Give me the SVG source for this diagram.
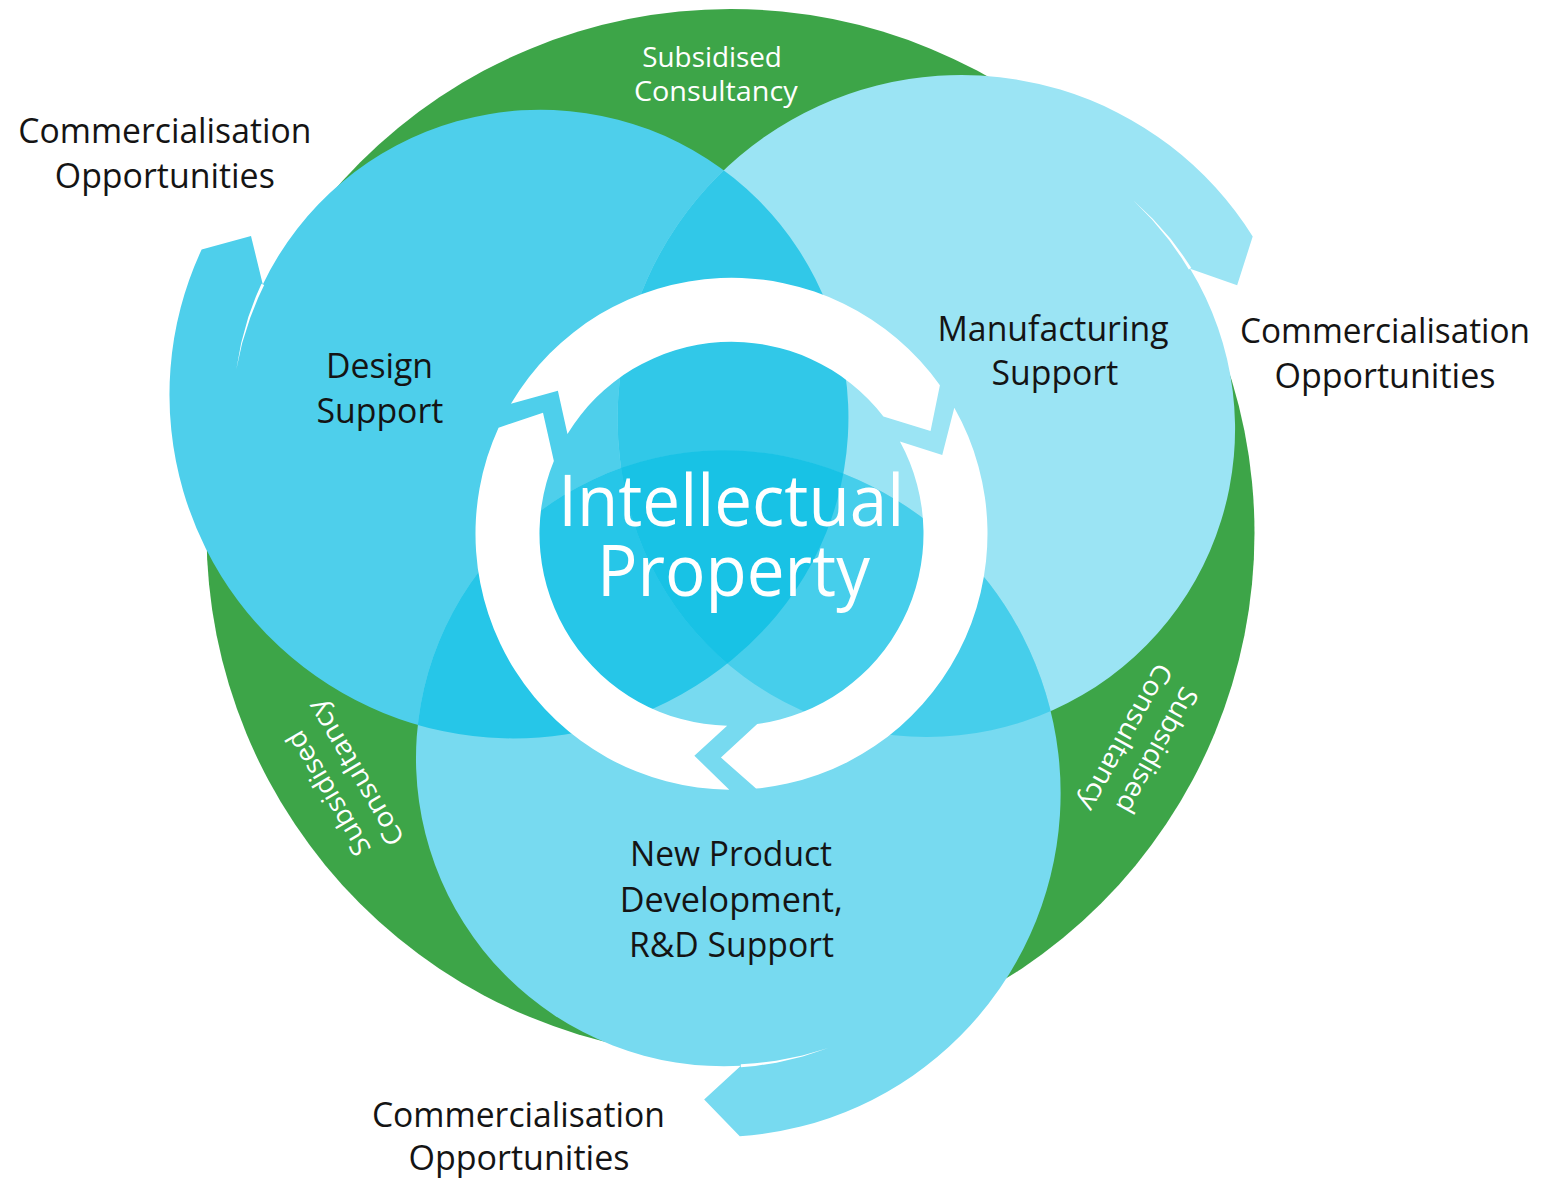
<svg xmlns="http://www.w3.org/2000/svg" width="1550" height="1179" viewBox="0 0 1550 1179">
  <style>
    .lbl { font-family: "Open Sans", "Noto Sans", "Liberation Sans", sans-serif; fill: #141414; text-anchor: middle; font-size: 34px; }
    .npd { font-size: 34px; }
    .sub { font-family: "Open Sans", "Noto Sans", "Liberation Sans", sans-serif; fill: #ffffff; text-anchor: middle; font-size: 27px; }
    .ip { font-family: "Open Sans", "Noto Sans", "Liberation Sans", sans-serif; fill: #ffffff; text-anchor: middle; font-size: 71px; }
    .gap { fill: #ffffff; }
    .arrow { fill: #ffffff; }
  </style>
  <defs>
    <path id="blob" d="M 776.4 615.7 A 343.7 343.7 0 0 1 201.65 249.5 L 251 236 L 262.8 284.4 A 308 308 0 1 1 776.4 615.7 Z"/>
    <path id="gapline" d="M 236.29 369.52 L 241.16 343.07 L 248.33 317.1 L 255.79 296.85 L 261.49 283.75 L 264.19 285.05 L 258.18 297.86 L 250.23 317.75 L 242.13 343.31 Z"/>
    <clipPath id="clipM"><use href="#blob" transform="rotate(120 730.5 535) rotate(3 540.5 417.7)"/></clipPath>
    <clipPath id="clipN"><use href="#blob" transform="rotate(240 730.5 535) rotate(1.2 540.5 417.7)"/></clipPath>
  </defs>

  <g id="subsidised-consultancy-ring">
    <circle cx="730.5" cy="533" r="524" fill="#3DA548"/>
  </g>

  <g id="design-support">
    <use href="#blob" fill="#4ECFEB"/>
    <use href="#gapline" class="gap"/>
    <text class="lbl" x="379.5" y="378.2" textLength="107" lengthAdjust="spacingAndGlyphs">Design</text>
    <text class="lbl" x="379.9" y="422.9" textLength="127" lengthAdjust="spacingAndGlyphs">Support</text>
  </g>

  <g id="manufacturing-support">
    <g transform="rotate(120 730.5 535) rotate(3 540.5 417.7)">
      <use href="#blob" fill="#9BE4F4"/>
      <use href="#gapline" class="gap"/>
    </g>
    <text class="lbl" x="1053" y="340.5" textLength="231" lengthAdjust="spacingAndGlyphs">Manufacturing</text>
    <text class="lbl" x="1054.9" y="384.5" textLength="126.6" lengthAdjust="spacingAndGlyphs">Support</text>
  </g>

  <g id="new-product-development">
    <g transform="rotate(240 730.5 535) rotate(1.2 540.5 417.7)">
      <use href="#blob" fill="#77DAF0"/>
      <use href="#gapline" class="gap"/>
    </g>
    <text class="lbl npd" x="731" y="865.7" textLength="202" lengthAdjust="spacingAndGlyphs">New Product</text>
    <text class="lbl npd" x="731.3" y="912.3" textLength="223" lengthAdjust="spacingAndGlyphs">Development,</text>
    <text class="lbl npd" x="731.5" y="957" textLength="205" lengthAdjust="spacingAndGlyphs">R&amp;D Support</text>
  </g>

  <g id="overlaps">
    <g clip-path="url(#clipM)"><use href="#blob" fill="#31C8E8"/></g>
    <g clip-path="url(#clipN)"><use href="#blob" fill="#26C6E8"/></g>
    <g clip-path="url(#clipN)">
      <g transform="rotate(120 730.5 535) rotate(3 540.5 417.7)"><use href="#blob" fill="#46CEEB"/></g>
    </g>
    <g clip-path="url(#clipM)">
      <g clip-path="url(#clipN)"><use href="#blob" fill="#18C2E5"/></g>
    </g>
  </g>

  <g id="connectors">
    <path class="arrow" d="M 729.27 789.79 A 256 256 0 0 1 498.54 427.64 L 543.0 412.79 L 553.86 460.94 A 192 192 0 0 0 727.14 725.75 L 694.36 755.72 Z"/>
    <path class="arrow" d="M 510.92 403.87 A 256 256 0 0 1 939.91 385.14 L 930.55 431.06 L 883.41 416.39 A 192 192 0 0 0 567.46 434.02 L 557.89 390.68 Z"/>
    <path class="arrow" d="M 954.31 407.74 A 256 256 0 0 1 756.04 788.62 L 720.95 757.55 L 757.23 724.07 A 192 192 0 0 0 899.91 441.6 L 942.25 455.0 Z"/>
  </g>

  <g id="intellectual-property">
    <text class="ip"><tspan x="731.2" y="526" textLength="346" lengthAdjust="spacingAndGlyphs">Intellectual</tspan><tspan x="733.4" y="596" textLength="273" lengthAdjust="spacingAndGlyphs">Property</tspan></text>
  </g>

  <g id="consultancy-top">
    <text class="sub" x="712.1" y="66.7" textLength="139.6" lengthAdjust="spacingAndGlyphs">Subsidised</text>
    <text class="sub" x="715.8" y="100.5" textLength="163.7" lengthAdjust="spacingAndGlyphs">Consultancy</text>
  </g>
  <g id="consultancy-right" transform="rotate(119 730.5 535)">
    <text class="sub" x="712.1" y="66.7" textLength="139.6" lengthAdjust="spacingAndGlyphs">Subsidised</text>
    <text class="sub" x="715.8" y="100.5" textLength="163.7" lengthAdjust="spacingAndGlyphs">Consultancy</text>
  </g>
  <g id="consultancy-left" transform="rotate(239.5 730.5 535)">
    <text class="sub" x="712.1" y="66.7" textLength="139.6" lengthAdjust="spacingAndGlyphs">Subsidised</text>
    <text class="sub" x="715.8" y="100.5" textLength="163.7" lengthAdjust="spacingAndGlyphs">Consultancy</text>
  </g>

  <g id="commercialisation-top-left">
    <text class="lbl" x="164.8" y="143.3" textLength="293" lengthAdjust="spacingAndGlyphs">Commercialisation</text>
    <text class="lbl" x="164.8" y="187.5" textLength="220" lengthAdjust="spacingAndGlyphs">Opportunities</text>
  </g>
  <g id="commercialisation-right">
    <text class="lbl" x="1385" y="343" textLength="290" lengthAdjust="spacingAndGlyphs">Commercialisation</text>
    <text class="lbl" x="1385" y="387.5" textLength="221" lengthAdjust="spacingAndGlyphs">Opportunities</text>
  </g>
  <g id="commercialisation-bottom">
    <text class="lbl" x="518.4" y="1126.5" textLength="293" lengthAdjust="spacingAndGlyphs">Commercialisation</text>
    <text class="lbl" x="519" y="1170" textLength="221" lengthAdjust="spacingAndGlyphs">Opportunities</text>
  </g>
</svg>
